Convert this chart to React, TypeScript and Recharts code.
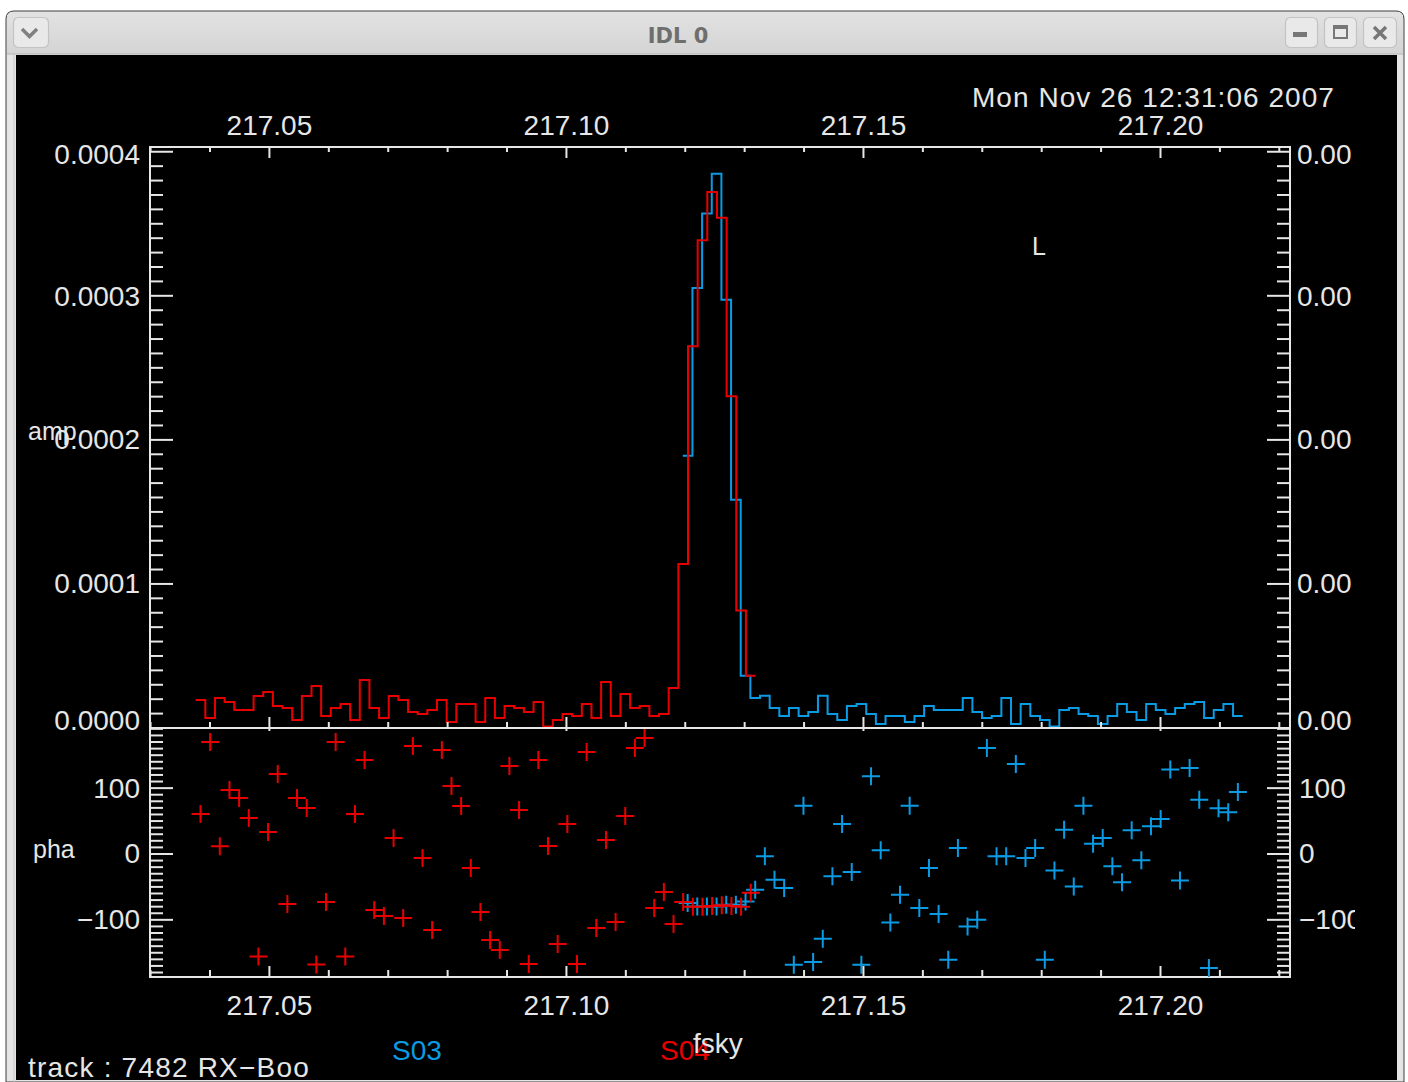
import React from 'react';
import { ComposedChart, Line, Scatter, XAxis, YAxis } from 'recharts';

// ---------------- data ----------------
const CHANNEL_WIDTH_GHZ = 0.001625;
const S04_FIRST_CHANNEL_GHZ = 217.0384;
const S03_FIRST_CHANNEL_GHZ = 217.1204;

// amplitudes in units of 1e-4
const S04_AMP_E4 = [
  0.194, 0.069, 0.208, 0.18, 0.125, 0.125, 0.222, 0.25, 0.153, 0.139,
  0.056, 0.222, 0.291, 0.083, 0.139, 0.167, 0.056, 0.333, 0.139, 0.069,
  0.222, 0.194, 0.111, 0.097, 0.125, 0.194, 0.042, 0.167, 0.167, 0.042,
  0.208, 0.069, 0.153, 0.139, 0.111, 0.18, 0.011, 0.056, 0.097, 0.083,
  0.167, 0.069, 0.319, 0.083, 0.236, 0.139, 0.153, 0.083, 0.097, 0.278,
  1.138, 2.65, 3.386, 3.721, 3.542, 2.303, 0.816, 0.362,
];
const S04_PHA = [
  60.7, 170.2, 11.6, 97.2, 85.1, 54.7, -155.6, 33.4, 121.5, -76.0,
  85.1, 69.9, -167.7, -73.0, 170.2, -155.6, 60.7, 142.8, -85.2, -94.3,
  24.3, -97.3, 164.1, -6.1, -115.5, 158.0, 103.3, 72.9, -21.3, -88.2,
  -130.7, -145.9, 133.7, 66.8, -167.2, 142.8, 12.1, -136.8, 45.5, -167.2,
  155.0, -112.5, 21.2, -103.4, 57.7, 161.0, 176.2, -82.1, -57.8, -106.4,
  -73.0, -80, -80, -79, -78, -79, -80, -59,
];
const S03_AMP_E4 = [
  1.89, 3.054, 3.572, 3.847, 2.972, 1.584, 0.362, 0.208, 0.224, 0.139,
  0.083, 0.139, 0.083, 0.111, 0.224, 0.097, 0.056, 0.153, 0.167, 0.097,
  0.028, 0.083, 0.083, 0.042, 0.083, 0.153, 0.125, 0.125, 0.125, 0.208,
  0.111, 0.069, 0.083, 0.208, 0.028, 0.167, 0.083, 0.056, 0.011, 0.125,
  0.139, 0.097, 0.083, 0.028, 0.083, 0.167, 0.111, 0.056, 0.167, 0.125,
  0.097, 0.139, 0.167, 0.18, 0.069, 0.125, 0.167, 0.083,
];
const S03_PHA = [
  -74.5, -79.6, -79.6, -79.6, -77.1, -77.1, -72.0, -54.3, -3.6, -39.1,
  -51.7, -168.2, 73.4, -164.2, -128.7, -34.0, 45.5, -27.4, -168.2, 118.0,
  5.5, -103.9, -61.9, 73.4, -82.1, -21.3, -91.2, -160.6, 9.1, -110.0,
  -99.8, 161.0, -3.6, -3.6, 136.7, -6.1, 9.1, -160.6, -24.9, 36.9,
  -49.2, 73.4, 15.7, 24.3, -18.8, -43.1, 35.9, -9.7, 42.0, 53.1,
  128.1, -40.1, 130.7, 82.5, -173.3, 69.3, 63.3, 94.2,
];

const FREQ_DOMAIN: [number, number] = [217.0299, 217.2218];
const AMP_DOMAIN: [number, number] = [0, 0.0004033];
const PHA_DOMAIN: [number, number] = [-186.8, 191.3];

const FREQ_TICKS = [
  217.03, 217.04, 217.05, 217.06, 217.07, 217.08, 217.09, 217.1, 217.11, 217.12,
  217.13, 217.14, 217.15, 217.16, 217.17, 217.18, 217.19, 217.2, 217.21, 217.22,
];
const FREQ_MAJOR = [217.05, 217.1, 217.15, 217.2];
const FREQ_LABELS = ['217.05', '217.10', '217.15', '217.20'];

const AMP_MAJOR = [0, 0.0001, 0.0002, 0.0003, 0.0004];
const AMP_LABELS_LEFT = ['0.0000', '0.0001', '0.0002', '0.0003', '0.0004'];
const AMP_LABELS_RIGHT = ['0.00', '0.00', '0.00', '0.00', '0.00'];
const AMP_MINOR_STEP = 0.00001;

const PHA_MAJOR = [-100, 0, 100];
const PHA_LABELS = ['\u2212100', '0', '100'];
const PHA_MINOR_STEP = 10;

const SERIES_NAMES = ['S03', 'S04'];
const DATE_TEXT = 'Mon Nov 26 12:31:06 2007';
const TRACK_TEXT = 'track : 7482 RX\u2212Boo';
const X_TITLE = 'fsky';
const AMP_TITLE = 'amp';
const PHA_TITLE = 'pha';
const MARK_TEXT = 'L';
const WINDOW_TITLE = 'IDL 0';

// ---------------- derived tables ----------------
const AMP_TICKS = Array.from({ length: 41 }, (_, i) => +(i * AMP_MINOR_STEP).toFixed(6));
const PHA_TICKS = Array.from({ length: 38 }, (_, i) => -180 + i * PHA_MINOR_STEP);

const chan = (start: number, i: number) => start + i * CHANNEL_WIDTH_GHZ;
const ampRows = (start: number, amps: number[]) => {
  const rows = amps.map((a, i) => ({ f: chan(start, i), v: a * 1e-4 }));
  const first = rows[0];
  const last = rows[rows.length - 1];
  return [
    { f: first.f - CHANNEL_WIDTH_GHZ / 2, v: first.v },
    ...rows,
    { f: last.f + CHANNEL_WIDTH_GHZ / 2, v: last.v },
  ];
};
const phaRows = (start: number, phs: number[]) => phs.map((p, i) => ({ f: chan(start, i), v: p }));

const S04_AMP_ROWS = ampRows(S04_FIRST_CHANNEL_GHZ, S04_AMP_E4);
const S03_AMP_ROWS = ampRows(S03_FIRST_CHANNEL_GHZ, S03_AMP_E4);
const S04_PHA_ROWS = phaRows(S04_FIRST_CHANNEL_GHZ, S04_PHA);
const S03_PHA_ROWS = phaRows(S03_FIRST_CHANNEL_GHZ, S03_PHA);

// ---------------- styling ----------------
const RED = '#e80000';
const BLUE = '#0a9be4';
const FG = '#e6e6e6';
const FONT = "'Liberation Sans', Arial, sans-serif";
const FS = 28;

type Side = 'top' | 'bottom' | 'left' | 'right';
interface TickCfg {
  side: Side;
  majors: number[];
  labels?: string[];
  majorLen: number;
  minorLen: number;
  tol: number;
  labelOffset?: number;
  labelDy?: number[];
  clipWidth?: number;
}

const makeTick = (cfg: TickCfg) => (props: any) => {
  const { x, y, payload } = props;
  const v = payload && payload.value;
  const mi = cfg.majors.findIndex((m) => Math.abs(m - v) < cfg.tol);
  const len = mi >= 0 ? cfg.majorLen : cfg.minorLen;
  let line: any = null;
  const ls = { stroke: FG, strokeWidth: 2 };
  if (len > 0) {
    if (cfg.side === 'top') line = <line x1={x} x2={x} y1={y} y2={y + len} {...ls} />;
    if (cfg.side === 'bottom') line = <line x1={x} x2={x} y1={y} y2={y - len} {...ls} />;
    if (cfg.side === 'left') line = <line x1={x} x2={x + len} y1={y} y2={y} {...ls} />;
    if (cfg.side === 'right') line = <line x1={x} x2={x - len} y1={y} y2={y} {...ls} />;
  }
  let label: any = null;
  if (cfg.labels && mi >= 0) {
    const txt = cfg.labels[mi];
    const dy = cfg.labelDy ? cfg.labelDy[mi] : 0;
    const common = { fill: FG, fontSize: FS, fontFamily: FONT, dominantBaseline: 'central' as const };
    const off = cfg.labelOffset ?? 0;
    if (cfg.side === 'top' || cfg.side === 'bottom')
      label = <text x={x} y={y + off + dy} textAnchor="middle" {...common}>{txt}</text>;
    if (cfg.side === 'left')
      label = <text x={x + off} y={y + dy} textAnchor="end" {...common}>{txt}</text>;
    if (cfg.side === 'right') {
      const t = (
        <text x={cfg.clipWidth ? 0 : x + off} y={cfg.clipWidth ? 30 + dy : y + dy} textAnchor="start" {...common}>
          {txt}
        </text>
      );
      label = cfg.clipWidth ? (
        <svg x={x + off} y={y - 30} width={cfg.clipWidth} height={60} overflow="hidden">{t}</svg>
      ) : t;
    }
  }
  return (
    <g>
      {line}
      {label}
    </g>
  );
};

const axisLine = { stroke: FG, strokeWidth: 2, strokeLinecap: 'square' as const };

const plus = (color: string) => (props: any) => {
  const { cx, cy } = props;
  if (cx == null || cy == null || isNaN(cx) || isNaN(cy)) return <g />;
  return (
    <path
      d={`M${cx - 9},${cy}H${cx + 9}M${cx},${cy - 9}V${cy + 9}`}
      stroke={color}
      strokeWidth={2}
      fill="none"
    />
  );
};

const commonX = {
  type: 'number' as const,
  dataKey: 'f',
  domain: FREQ_DOMAIN,
  allowDataOverflow: true,
  ticks: FREQ_TICKS,
  interval: 0 as const,
  tickSize: 0,
  tickMargin: 0,
  tickLine: false,
  minTickGap: 0,
  axisLine,
  height: 1,
};

const commonY = {
  type: 'number' as const,
  dataKey: 'v',
  width: 1,
  allowDataOverflow: true,
  interval: 0 as const,
  tickSize: 0,
  tickMargin: 0,
  tickLine: false,
  minTickGap: 0,
  axisLine,
};

function AmpChart() {
  return (
    <ComposedChart width={1408} height={740} margin={{ top: 146, right: 117, bottom: 11, left: 149 }}>
      <XAxis
        {...commonX}
        xAxisId="t"
        orientation="top"
        tick={makeTick({ side: 'top', majors: FREQ_MAJOR, labels: FREQ_LABELS, majorLen: 11, minorLen: 5, tol: 1e-6, labelOffset: -22 })}
      />
      <XAxis
        {...commonX}
        xAxisId="b"
        orientation="bottom"
        tick={makeTick({ side: 'bottom', majors: FREQ_MAJOR, majorLen: 11, minorLen: 6, tol: 1e-6 })}
      />
      <YAxis
        {...commonY}
        yAxisId="l"
        orientation="left"
        domain={AMP_DOMAIN}
        ticks={AMP_TICKS}
        tick={makeTick({ side: 'left', majors: AMP_MAJOR, labels: AMP_LABELS_LEFT, majorLen: 23, minorLen: 13, tol: 1e-7, labelOffset: -10, labelDy: [-8, 0, 0, 1, 3] })}
      />
      <YAxis
        {...commonY}
        yAxisId="r"
        orientation="right"
        domain={AMP_DOMAIN}
        ticks={AMP_TICKS}
        tick={makeTick({ side: 'right', majors: AMP_MAJOR, labels: AMP_LABELS_RIGHT, majorLen: 23, minorLen: 13, tol: 1e-7, labelOffset: 7, labelDy: [-8, 0, 0, 1, 3] })}
      />
      <Line
        xAxisId="t"
        yAxisId="l"
        data={S03_AMP_ROWS}
        dataKey="v"
        type="step"
        stroke={BLUE}
        strokeWidth={2}
        dot={false}
        activeDot={false}
        isAnimationActive={false}
        name={SERIES_NAMES[0]}
      />
      <Line
        xAxisId="t"
        yAxisId="l"
        data={S04_AMP_ROWS}
        dataKey="v"
        type="step"
        stroke={RED}
        strokeWidth={2}
        dot={false}
        activeDot={false}
        isAnimationActive={false}
        name={SERIES_NAMES[1]}
      />
    </ComposedChart>
  );
}

function PhaChart() {
  return (
    <ComposedChart width={1408} height={330} margin={{ top: 27, right: 117, bottom: 52, left: 149 }}>
      <XAxis
        {...commonX}
        xAxisId="t"
        orientation="top"
        tick={makeTick({ side: 'top', majors: FREQ_MAJOR, majorLen: 3, minorLen: 0, tol: 1e-6 })}
      />
      <XAxis
        {...commonX}
        xAxisId="b"
        orientation="bottom"
        tick={makeTick({ side: 'bottom', majors: FREQ_MAJOR, labels: FREQ_LABELS, majorLen: 11, minorLen: 7, tol: 1e-6, labelOffset: 28 })}
      />
      <YAxis
        {...commonY}
        yAxisId="l"
        orientation="left"
        domain={PHA_DOMAIN}
        ticks={PHA_TICKS}
        tick={makeTick({ side: 'left', majors: PHA_MAJOR, labels: PHA_LABELS, majorLen: 23, minorLen: 13, tol: 1e-6, labelOffset: -10 })}
      />
      <YAxis
        {...commonY}
        yAxisId="r"
        orientation="right"
        domain={PHA_DOMAIN}
        ticks={PHA_TICKS}
        tick={makeTick({ side: 'right', majors: PHA_MAJOR, labels: PHA_LABELS, majorLen: 23, minorLen: 13, tol: 1e-6, labelOffset: 9, clipWidth: 56 })}
      />
      <Scatter
        xAxisId="b"
        yAxisId="l"
        data={S03_PHA_ROWS}
        dataKey="v"
        shape={plus(BLUE)}
        isAnimationActive={false}
        name={SERIES_NAMES[0]}
      />
      <Scatter
        xAxisId="b"
        yAxisId="l"
        data={S04_PHA_ROWS}
        dataKey="v"
        shape={plus(RED)}
        isAnimationActive={false}
        name={SERIES_NAMES[1]}
      />
    </ComposedChart>
  );
}

function WindowChrome() {
  const btn = { fill: '#e9e9e9', stroke: '#c3c3c3', strokeWidth: 1.2 };
  return (
    <svg width={1408} height={1082} style={{ position: 'absolute', left: 0, top: 0 }}>
      <defs>
        <linearGradient id="tb" x1="0" y1="0" x2="0" y2="1">
          <stop offset="0" stopColor="#e2e2e2" />
          <stop offset="1" stopColor="#d4d4d4" />
        </linearGradient>
      </defs>
      <rect x={0} y={0} width={1408} height={1082} fill="#ffffff" />
      <path d="M6,1082 V19 Q6,11 14,11 H1396 Q1404,11 1404,19 V1082 Z" fill="#e5e5e5" stroke="#3c3c3c" strokeWidth={1} />
      <path d="M7,54 V19 Q7,12 14,12 H1396 Q1403,12 1403,19 V54 Z" fill="url(#tb)" />
      <line x1={7} x2={1403} y1={54} y2={54} stroke="#b5b5b5" strokeWidth={1} />
      <line x1={14} x2={14} y1={55} y2={1082} stroke="#c6c6c6" strokeWidth={1} />
      <rect x={16} y={55} width={1381} height={1025} fill="#000" />
      <rect x={13.5} y={17.5} width={35} height={30} rx={5} {...btn} />
      <polyline points="22,29 29.5,36.5 37,29" fill="none" stroke="#808080" strokeWidth={3.5} />
      <rect x={1285.5} y={17.5} width={32} height={30} rx={5} {...btn} />
      <rect x={1293} y={32} width={14} height={5} fill="#777" />
      <rect x={1324.5} y={17.5} width={32} height={30} rx={5} {...btn} />
      <rect x={1334} y={26} width={13} height={12} fill="none" stroke="#777" strokeWidth={2} />
      <rect x={1334} y={25} width={13} height={4} fill="#777" />
      <rect x={1363.5} y={17.5} width={33} height={30} rx={5} {...btn} />
      <path d="M1374,27 L1386,39 M1386,27 L1374,39" stroke="#777" strokeWidth={3.5} />
      <text
        x={678}
        y={36}
        textAnchor="middle"
        dominantBaseline="central"
        fill="#6e6e6e"
        fontFamily="'DejaVu Sans', sans-serif"
        fontWeight="bold"
        fontSize={21}
      >
        {WINDOW_TITLE}
      </text>
    </svg>
  );
}

function TextOverlay() {
  const t = { fill: FG, fontFamily: FONT, fontSize: FS, dominantBaseline: 'central' as const };
  return (
    <svg width={1408} height={1082} style={{ position: 'absolute', left: 0, top: 0, pointerEvents: 'none' }}>
      <text x={1335} y={97} textAnchor="end" letterSpacing={1.05} {...t}>{DATE_TEXT}</text>
      <text x={1032} y={246} {...t} fontSize={25}>{MARK_TEXT}</text>
      <text x={28} y={431} {...t} fontSize={25}>{AMP_TITLE}</text>
      <text x={33} y={849} {...t} fontSize={25}>{PHA_TITLE}</text>
      <text x={28} y={1067} letterSpacing={1.2} {...t}>{TRACK_TEXT}</text>
      <text x={392} y={1050} {...t} fill={BLUE}>{SERIES_NAMES[0]}</text>
      <text x={660} y={1050} {...t} fill={RED}>{SERIES_NAMES[1]}</text>
      <text x={693} y={1043} {...t}>{X_TITLE}</text>
    </svg>
  );
}

export default function App() {
  return (
    <div style={{ position: 'absolute', left: 0, top: 0, width: 1408, height: 1082, overflow: 'hidden' }}>
      <WindowChrome />
      <div style={{ position: 'absolute', left: 0, top: 0 }}>
        <AmpChart />
      </div>
      <div style={{ position: 'absolute', left: 0, top: 700 }}>
        <PhaChart />
      </div>
      <TextOverlay />
    </div>
  );
}
